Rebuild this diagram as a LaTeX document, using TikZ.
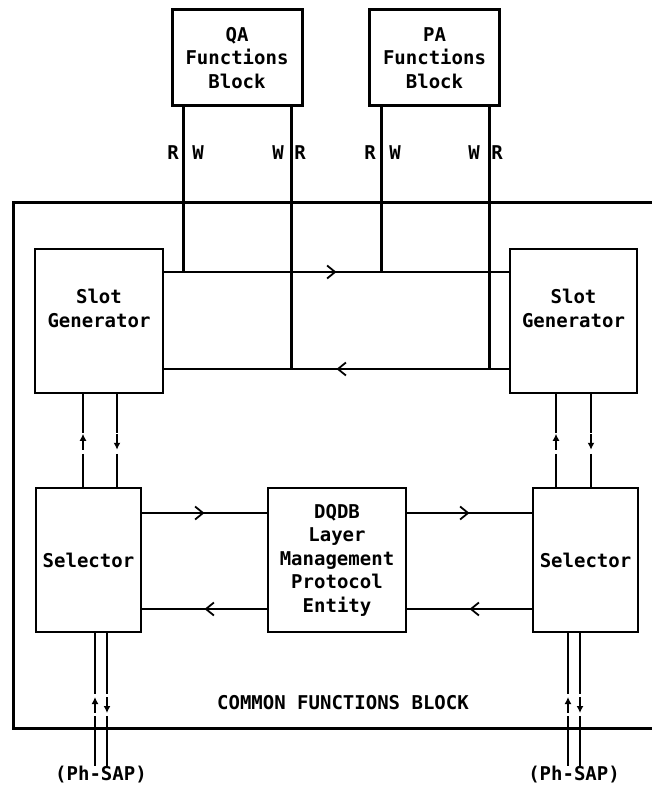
\documentclass[tikz,border=0pt]{standalone}
\usepackage{fontspec}
\setmainfont{DejaVu Sans Mono}
\usetikzlibrary{arrows.meta,decorations.markings,calc}

\tikzset{
  txt/.style={font=\fontsize{19}{23.5}\selectfont\bfseries, align=center, inner sep=0pt},
  fnblk/.style={draw, line width=3pt, minimum width=130pt, minimum height=96pt, txt},
  blk/.style={draw, line width=1.5pt, minimum height=144pt, txt},
  bus/.style={line width=3pt},
  wire/.style={line width=1.4pt},
  chev/.tip={Straight Barb[length=8pt,width=13pt,line width=1.8pt]},
  midtip/.style={postaction={decorate}, decoration={markings, mark=at position 0.5 with {\arrow{chev}}}},
  small tip/.style={line width=1.8pt, -{Latex[length=7pt,width=7pt]}},
}

\begin{document}
\begin{tikzpicture}[x=1pt, y=-1pt]
  \useasboundingbox (0,0) rectangle (651,786);

  % common functions block (runs off the right edge)
  \node[draw, line width=3.2pt, minimum width=660pt, minimum height=526pt, anchor=north west, inner sep=0pt] (cfb) at (12,201) {};
  \node[txt] (cfbtxt) at (343,703) {COMMON FUNCTIONS BLOCK};

  % QA and PA blocks
  \node[fnblk] (qa) at (237,58) {QA\\Functions\\Block};
  \node[fnblk] (pa) at (434.5,58) {PA\\Functions\\Block};

  % slot generators, selectors, layer management
  \node[blk, minimum width=128pt] (sgL) at (99,321) {};
  \node[blk, minimum width=127pt] (sgR) at (573.5,321) {};
  \node[txt] (sgLtxt) at (99,308.5) {Slot\\Generator};
  \node[txt] (sgRtxt) at (573.5,308.5) {Slot\\Generator};
  \node[blk, minimum width=105pt] (selL) at (88.5,560) {Selector};
  \node[blk, minimum width=105pt] (selR) at (585.5,560) {Selector};
  \node[blk, minimum width=138pt] (lm) at (337,560) {DQDB\\Layer\\Management\\Protocol\\Entity};

  % the two buses between the slot generators
  \coordinate (upper) at (0,272);
  \coordinate (lower) at (0,369);
  \draw[wire, midtip] (sgL.east |- upper) -- (sgR.west |- upper);
  \draw[wire, midtip] (sgR.west |- lower) -- (sgL.east |- lower);

  % read / write lines from the function blocks
  \draw[bus] ($(qa.south west)+(13,0)$) coordinate (qaA) -- (qaA |- upper);
  \draw[bus] ($(qa.south east)+(-12,0)$) coordinate (qaB) -- (qaB |- lower);
  \draw[bus] ($(pa.south west)+(13,0)$) coordinate (paA) -- (paA |- upper);
  \draw[bus] ($(pa.south east)+(-12,0)$) coordinate (paB) -- (paB |- lower);
  \node[txt] (qaR1) at (173,153) {R};
  \node[txt] (qaW1) at (198,153) {W};
  \node[txt] (qaW2) at (278,153) {W};
  \node[txt] (qaR2) at (300,153) {R};
  \node[txt] (paR1) at (370,153) {R};
  \node[txt] (paW1) at (395,153) {W};
  \node[txt] (paW2) at (474,153) {W};
  \node[txt] (paR2) at (497,153) {R};

  % selectors <-> layer management
  \draw[wire, midtip] (selL.east |- 0,513) -- (lm.west |- 0,513);
  \draw[wire, midtip] (lm.west |- 0,609) -- (selL.east |- 0,609);
  \draw[wire, midtip] (lm.east |- 0,513) -- (selR.west |- 0,513);
  \draw[wire, midtip] (selR.west |- 0,609) -- (lm.east |- 0,609);

  % slot generator <-> selector
  \coordinate (uL1) at ($(sgL.south)+(-16,0)$);
  \coordinate (uL2) at ($(sgL.south)+(18,0)$);
  \coordinate (uR1) at ($(sgR.south)+(-17.5,0)$);
  \coordinate (uR2) at ($(sgR.south)+(17.5,0)$);
  \foreach \c in {uL1,uL2,uR1,uR2} {
    \draw[wire] (\c) -- ++(0,39);
    \draw[wire] ($(\c)+(0,60)$) -- (\c |- selL.north);
  }
  \draw[small tip] ($(uL1)+(0,56)$) -- ++(0,-16);
  \draw[small tip] ($(uL2)+(0,40)$) -- ++(0,16);
  \draw[small tip] ($(uR1)+(0,56)$) -- ++(0,-16);
  \draw[small tip] ($(uR2)+(0,40)$) -- ++(0,16);

  % physical layer service access points
  \node[txt] (sapL) at (101,775) {(Ph-SAP)};
  \node[txt] (sapR) at (574,775) {(Ph-SAP)};
  \coordinate (dL1) at (95,0);
  \coordinate (dL2) at (107,0);
  \coordinate (dR1) at (568,0);
  \coordinate (dR2) at (580,0);
  \foreach \c/\s in {dL1/selL,dL2/selL,dR1/selR,dR2/selR} {
    \draw[wire] (\s.south -| \c) -- (\c |- 0,694);
    \draw[wire] (\c |- 0,716) -- (\c |- sapL.north);
  }
  \draw[small tip] (dL1 |- 0,713) -- (dL1 |- 0,697);
  \draw[small tip] (dL2 |- 0,697) -- (dL2 |- 0,713);
  \draw[small tip] (dR1 |- 0,713) -- (dR1 |- 0,697);
  \draw[small tip] (dR2 |- 0,697) -- (dR2 |- 0,713);
\end{tikzpicture}
\end{document}
